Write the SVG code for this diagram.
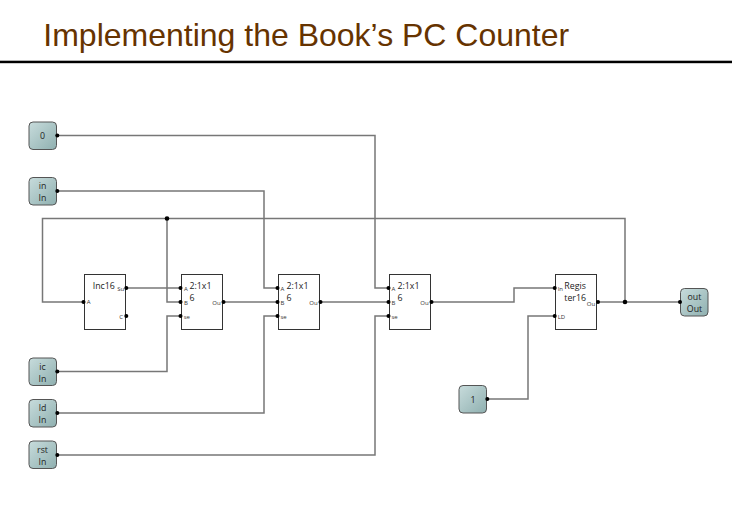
<svg xmlns="http://www.w3.org/2000/svg" width="732" height="505" viewBox="0 0 732 505">
<defs>
<linearGradient id="g" x1="0" y1="0" x2="1" y2="1"><stop offset="0" stop-color="#c8dcdc"/><stop offset="1" stop-color="#8fb0b0"/></linearGradient>
</defs>
<style>
text{font-family:"Open Sans","DejaVu Sans",sans-serif;fill:#222}
.title{font-family:"Liberation Sans",Arial,sans-serif;font-size:32px;fill:#663300}
.w{fill:none;stroke:#777;stroke-width:1.5}
.io{fill:url(#g);stroke:#555;stroke-width:1}
.b{fill:#fff;stroke:#333;stroke-width:1}
.n{font-size:8.800px;text-anchor:middle}
.t{font-size:8.800px}
.p{font-size:6px;fill:#333}
.d{fill:#000}
</style>
<rect width="732" height="505" fill="#fff"/>
<text class="title" x="43.300" y="46">Implementing the Book’s PC Counter</text>
<rect x="0" y="60.700" width="732" height="2.500" fill="#000"/>
<g id="connectors">
<path class="w" d="M57 135.500H375V288H389"/>
<path class="w" d="M57 191H264V288H278"/>
<path class="w" d="M625 302V218.500H42.500V302H84"/>
<path class="w" d="M167 218.500V302H181"/>
<path class="w" d="M126 288H181"/>
<path class="w" d="M57 371.500H167V316H181"/>
<path class="w" d="M57 413H264V316H278"/>
<path class="w" d="M57 455H375V316H389"/>
<path class="w" d="M223 302H278"/>
<path class="w" d="M320 302H389"/>
<path class="w" d="M431 302H514V288H556"/>
<path class="w" d="M487 399H528V316H556"/>
<path class="w" d="M597 302H680"/>
<circle class="d" cx="167" cy="218.500" r="2.300"/>
<circle class="d" cx="625" cy="302" r="2.300"/>
</g>
<g id="n0"><rect class="io" x="29" y="122" width="27.500" height="27.500" rx="4"/><text class="n" x="42.500" y="139">0</text><circle class="d" cx="57.300" cy="135.500" r="2"/></g>
<g id="nin"><rect class="io" x="29" y="177.500" width="27.500" height="27.500" rx="4"/><text class="n" x="42.500" y="189">in</text><text class="n" x="42.500" y="201">In</text><circle class="d" cx="57.300" cy="191" r="2"/></g>
<g id="nic"><rect class="io" x="29" y="358" width="27.500" height="27.500" rx="4"/><text class="n" x="42.500" y="369.500">ic</text><text class="n" x="42.500" y="381.500">In</text><circle class="d" cx="57.300" cy="371.500" r="2"/></g>
<g id="nld"><rect class="io" x="29" y="399.500" width="27.500" height="27.500" rx="4"/><text class="n" x="42.500" y="411">ld</text><text class="n" x="42.500" y="423">In</text><circle class="d" cx="57.300" cy="413" r="2"/></g>
<g id="nrst"><rect class="io" x="29" y="441" width="27.500" height="27.500" rx="4"/><text class="n" x="42.500" y="453">rst</text><text class="n" x="42.500" y="465">In</text><circle class="d" cx="57.300" cy="455" r="2"/></g>
<g id="n1"><rect class="io" x="459" y="385.500" width="27.500" height="27.500" rx="4"/><text class="n" x="473" y="402.500">1</text><circle class="d" cx="487.300" cy="399" r="2"/></g>
<g id="nout"><rect class="io" x="680.500" y="288.500" width="27.500" height="27.500" rx="4"/><text class="n" x="694.500" y="300">out</text><text class="n" x="694.500" y="312">Out</text><circle class="d" cx="680" cy="302" r="2"/></g>
<g id="inc16"><rect class="b" x="84.500" y="274.500" width="41" height="55"/><text class="t" x="92.700" y="288.500">Inc16</text><text class="p" x="117.300" y="291">Su</text><text class="p" x="119.300" y="318.500">C</text><text class="p" x="86.700" y="304">A</text><circle class="d" cx="126.300" cy="288" r="2"/><circle class="d" cx="126.300" cy="316" r="2"/><circle class="d" cx="83.500" cy="302" r="2"/></g>
<g id="mux1"><rect class="b" x="181.500" y="274.500" width="41" height="55"/><text class="t" x="189.500" y="288.500">2:1x1</text><text class="t" x="189.500" y="301">6</text><text class="p" x="184" y="290.500">A</text><text class="p" x="184" y="304.500">B</text><text class="p" x="183.700" y="318.500">se</text><text class="p" x="212.300" y="304.500">Ou</text><circle class="d" cx="180.500" cy="288" r="2"/><circle class="d" cx="180.500" cy="302" r="2"/><circle class="d" cx="180.500" cy="316" r="2"/><circle class="d" cx="223.500" cy="302" r="2"/></g>
<g id="mux2"><rect class="b" x="278.500" y="274.500" width="41" height="55"/><text class="t" x="286.500" y="288.500">2:1x1</text><text class="t" x="286.500" y="301">6</text><text class="p" x="280.500" y="290.500">A</text><text class="p" x="280.500" y="304.500">B</text><text class="p" x="280.500" y="318.500">se</text><text class="p" x="309.300" y="304.500">Ou</text><circle class="d" cx="277.500" cy="288" r="2"/><circle class="d" cx="277.500" cy="302" r="2"/><circle class="d" cx="277.500" cy="316" r="2"/><circle class="d" cx="320.500" cy="302" r="2"/></g>
<g id="mux3"><rect class="b" x="389.500" y="274.500" width="41" height="55"/><text class="t" x="397.500" y="288.500">2:1x1</text><text class="t" x="397.500" y="301">6</text><text class="p" x="391.500" y="290.500">A</text><text class="p" x="391.500" y="304.500">B</text><text class="p" x="391.500" y="318.500">se</text><text class="p" x="420.300" y="304.500">Ou</text><circle class="d" cx="388.500" cy="288" r="2"/><circle class="d" cx="388.500" cy="302" r="2"/><circle class="d" cx="388.500" cy="316" r="2"/><circle class="d" cx="431.500" cy="302" r="2"/></g>
<g id="reg"><rect class="b" x="555.500" y="274.500" width="41" height="55"/><text class="t" x="564.300" y="288.500">Regis</text><text class="t" x="564.300" y="301">ter16</text><text class="p" x="557.700" y="290.500">In</text><text class="p" x="557.700" y="318.500">LD</text><text class="p" x="586.800" y="305.500">Ou</text><circle class="d" cx="554.700" cy="288" r="2"/><circle class="d" cx="554.700" cy="316" r="2"/><circle class="d" cx="598" cy="302" r="2"/></g>
</svg>
